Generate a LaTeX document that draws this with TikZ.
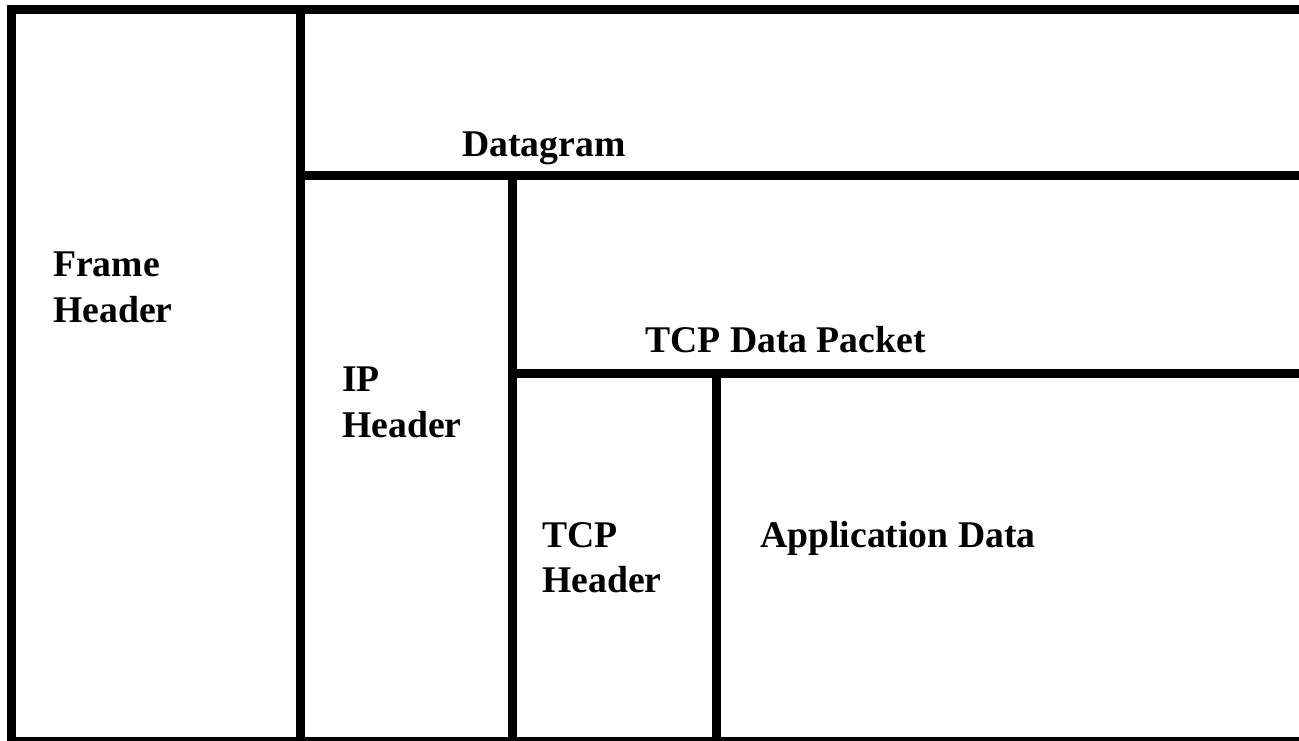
\documentclass[tikz,border=0pt]{standalone}
\usepackage{fontspec}
\setmainfont{Liberation Serif}
\begin{document}
\begin{tikzpicture}[x=1pt,y=-1pt,
  wall/.style={line width=9pt,black},
  lbl/.style={inner sep=0pt,font=\bfseries\fontsize{37.7}{45.5}\selectfont,align=left}]
\useasboundingbox (0,0) rectangle (1299,741);
\clip (0,0) rectangle (1299,741);
% corner coordinates
\coordinate (tl) at (11.5,9.5);
\coordinate (tr) at (1310,9.5);
\coordinate (bl) at (11.5,741.5);
\coordinate (br) at (1310,741.5);
\coordinate (v1t) at (300.5,9.5);
\coordinate (v1b) at (300.5,745);
\coordinate (h1l) at (300.5,176);
\coordinate (h1r) at (1310,176);
\coordinate (v2b) at (512.5,745);
\coordinate (h2l) at (512.5,373);
\coordinate (h2r) at (1310,373);
\coordinate (v3b) at (716,745);
\coordinate (v3t) at (716,373);
\coordinate (v2t) at (512.5,176);
% frame
\draw[wall] (tr) -- (tl) -- (bl) -- (br);
\draw[wall] (v1t) -- (v1b);
\draw[wall] (h1l) -- (h1r);
\draw[wall] (v2t) -- (v2b);
\draw[wall] (h2l) -- (h2r);
\draw[wall] (v3t) -- (v3b);
% labels
\node[lbl,anchor=base west] (datagram) at (462,157) {Datagram};
\node[lbl,anchor=base west] (tcpdata) at (645,352) {TCP Data Packet};
\node[lbl,anchor=base west] (appdata) at (760,547) {Application Data};
\node[lbl,anchor=north west] (frame) at (53,252) {Frame\\Header};
\node[lbl,anchor=north west] (ip) at (342,367) {IP\\Header};
\node[lbl,anchor=north west] (tcph) at (542,522) {TCP\\Header};
\end{tikzpicture}
\end{document}
